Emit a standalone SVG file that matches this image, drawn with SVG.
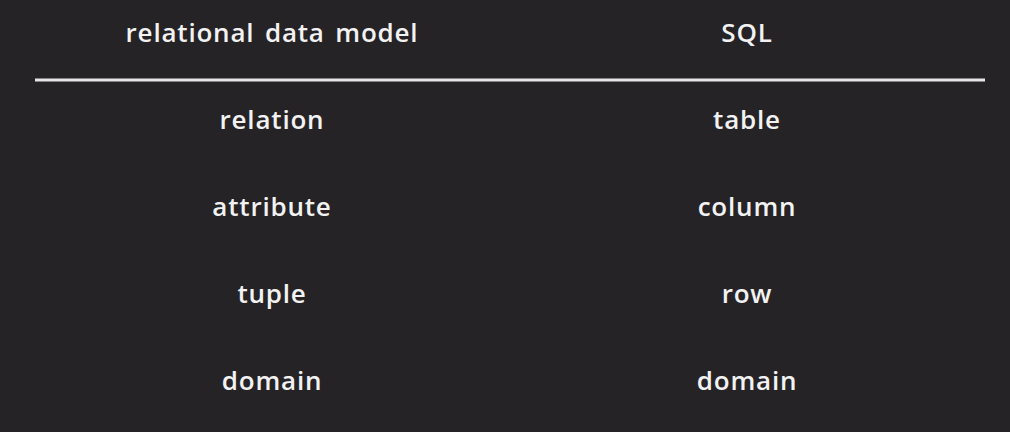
<svg xmlns="http://www.w3.org/2000/svg" width="1010" height="432" viewBox="0 0 1010 432">
<style>
text{font-family:"Open Sans","DejaVu Sans",sans-serif;font-size:26px;font-weight:600;fill:#f2f2f2;text-anchor:middle;letter-spacing:0.8px}
.h{word-spacing:3px}
</style>
<rect width="1010" height="432" fill="#252326"/>
<g id="header">
<text class="h" x="272" y="42">relational data model</text>
<text x="747" y="42">SQL</text>
</g>
<g id="rule"><line x1="35" y1="80" x2="985" y2="80" stroke="#e6e6e6" stroke-width="3"/></g>
<g id="row1"><text x="272" y="129">relation</text><text x="747" y="129">table</text></g>
<g id="row2"><text x="272" y="216">attribute</text><text x="747" y="216">column</text></g>
<g id="row3"><text x="272" y="303">tuple</text><text x="747" y="303">row</text></g>
<g id="row4"><text x="272" y="390">domain</text><text x="747" y="390">domain</text></g>
</svg>
